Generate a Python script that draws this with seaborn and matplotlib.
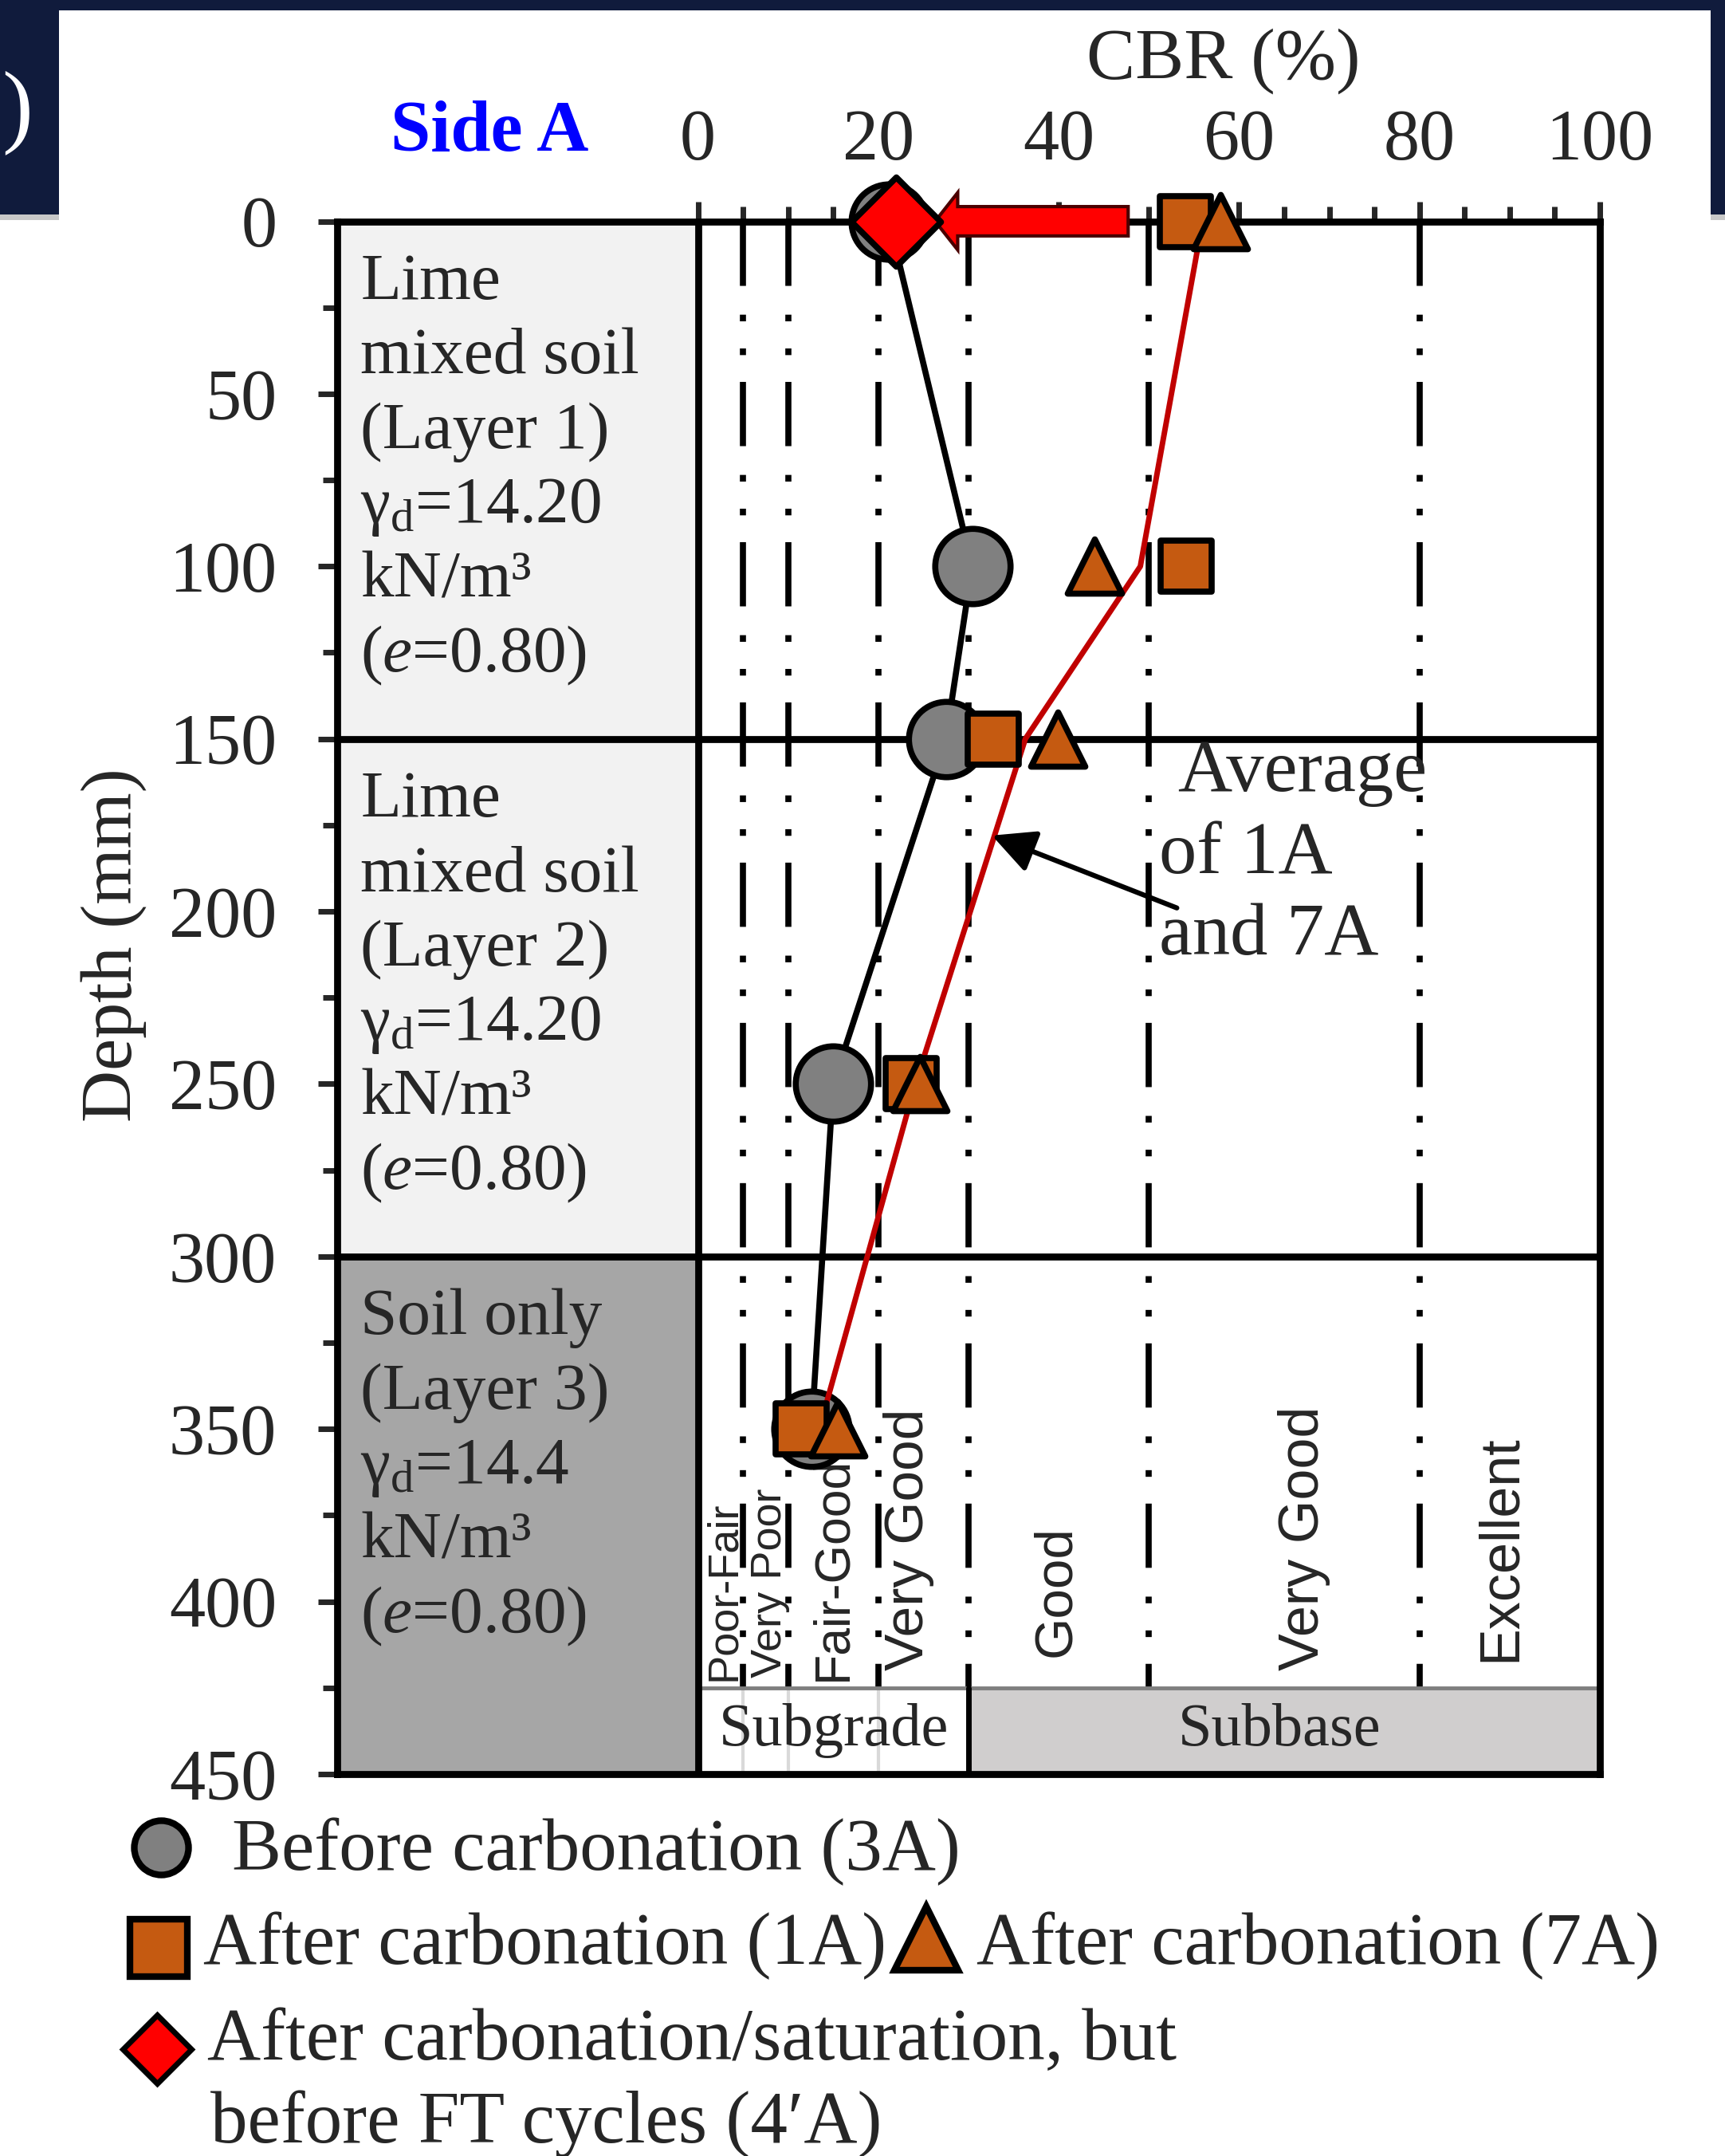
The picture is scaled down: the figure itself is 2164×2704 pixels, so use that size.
import matplotlib
matplotlib.use("Agg")
import matplotlib.pyplot as plt
import numpy as np
import pandas as pd
import seaborn as sns
from matplotlib.patches import Rectangle
from matplotlib.ticker import FixedLocator

# ---------------- data ----------------
depth_mm = [0, 100, 150, 250, 350]
cbr_before_3A = [21.2, 30.4, 27.5, 15.0, 12.6]
cbr_after_1A = [54.0, 54.1, 32.7, 23.6, 11.4]
cbr_after_7A = [57.9, 44.0, 39.9, 24.6, 15.5]
cbr_after_sat_4A = [22.0]
depth_4A = [0]

cbr_ticks = [0, 20, 40, 60, 80, 100]
cbr_minor_ticks = [5, 10, 15, 25, 30, 35, 45, 50, 55, 65, 70, 75, 85, 90, 95]
depth_ticks = [0, 50, 100, 150, 200, 250, 300, 350, 400, 450]
depth_minor_ticks = [25, 75, 125, 175, 225, 275, 325, 375, 425]

class_bounds = [5, 10, 20, 30, 50, 80]
class_labels = ["Poor-Fair", "Very Poor", "Fair-Good", "Very Good",
                "Good", "Very Good", "Excellent"]
layer_bounds = [0, 150, 300, 450]
layer_texts = [
    ["Lime", "mixed soil", "(Layer 1)", "γ$_\\mathrm{d}$=14.20", "kN/m³", "($\\mathit{e}$=0.80)"],
    ["Lime", "mixed soil", "(Layer 2)", "γ$_\\mathrm{d}$=14.20", "kN/m³", "($\\mathit{e}$=0.80)"],
    ["Soil only", "(Layer 3)", "γ$_\\mathrm{d}$=14.4", "kN/m³", "($\\mathit{e}$=0.80)"],
]
legend_labels = ["Before carbonation (3A)", "After carbonation (1A)",
                 "After carbonation (7A)",
                 "After carbonation/saturation, but", "before FT cycles (4′A)"]

cbr_avg = (np.array(cbr_after_1A) + np.array(cbr_after_7A)) / 2.0

# ---------------- style ----------------
sns.set_style("white")
plt.rcParams.update({
    "font.family": ["Liberation Serif", "DejaVu Serif"],
    "mathtext.fontset": "custom",
    "mathtext.rm": "Liberation Serif",
    "mathtext.it": "Liberation Serif:italic",
    "mathtext.bf": "Liberation Serif:bold",
    "lines.scale_dashes": False,
})

GRAY = "#808080"
ORANGE = "#c55a11"
RED = "#ff0000"
NAVY = "#101b3c"

W, H = 2164, 2704
fig = plt.figure(figsize=(W / 100, H / 100), dpi=100)
fig.patch.set_facecolor("white")

# overlay in pixel coordinates (frame decoration + legend)
ov = fig.add_axes([0, 0, 1, 1], zorder=0)
ov.set_xlim(0, W)
ov.set_ylim(H, 0)
ov.axis("off")

ax = fig.add_axes([423 / W, 1 - 2225 / H, (2007 - 423) / W, (2225 - 277.5) / H], zorder=1)
ax.set_xlim(-40, 100)
ax.set_ylim(450, 0)

# ---- layer panels ----
layer_fill = ["#f2f2f2", "#f2f2f2", "#a6a6a6"]
for top, bot, fc in zip(layer_bounds[:-1], layer_bounds[1:], layer_fill):
    ax.add_patch(Rectangle((-40, top), 40, bot - top, fc=fc, ec="none", zorder=0.5))

# ---- bottom band (Subgrade / Subbase) ----
band_top = 425
ax.add_patch(Rectangle((0, band_top), 30, 450 - band_top, fc="white", ec="none", zorder=0.6))
ax.add_patch(Rectangle((30, band_top), 70, 450 - band_top, fc="#d0cece", ec="none", zorder=0.6))
for b in class_bounds[:3]:
    ax.plot([b, b], [band_top, 450], color="#d9d9d9", lw=3, zorder=0.7)
ax.plot([0, 100], [band_top, band_top], color="#7f7f7f", lw=3.5, zorder=1.1)
ax.plot([30, 30], [band_top, 450], color="black", lw=5, zorder=1.1)
ax.text(15.1, 437.5, "Subgrade", ha="center", va="center", fontsize=55, zorder=3)
ax.text(64.5, 437.5, "Subbase", ha="center", va="center", fontsize=55, zorder=3)

# ---- classification lines ----
dash = (0, (58, 26, 6, 24.5, 6, 24.2))
for b in class_bounds:
    ax.plot([b, b], [0, band_top], color="black", lw=5.5, linestyle=dash, zorder=1)

# ---- classification labels ----
cl_x = [2.9, 8.0, 15.0, 23.4, 39.7, 67.2, 89.0]
cl_bot = [423, 422, 423, 420, 416, 420, 417.5]
cl_size = [39, 39, 45, 50, 48.5, 50.5, 50.5]
for lab, x, yb, fs in zip(class_labels, cl_x, cl_bot, cl_size):
    ax.text(x, yb, lab, rotation=90, ha="center", va="bottom", fontsize=fs,
            family=["Liberation Sans", "DejaVu Sans"], zorder=3)

# ---- layer boundary lines ----
ax.axvline(0, color="black", lw=6.3, zorder=2)
for d in layer_bounds[1:-1]:
    ax.axhline(d, color="black", lw=6.3, zorder=2)

# ---- layer texts ----
for top, lines in zip(layer_bounds[:-1], layer_texts):
    for i, t in enumerate(lines):
        ax.text(-37.4, top + 22.5 + 21.6 * i, t, ha="left", va="baseline",
                fontsize=60, zorder=3)

# ---- data ----
sns.lineplot(x=cbr_before_3A, y=depth_mm, sort=False, estimator=None,
             color="black", lw=5.5, ax=ax, zorder=3)
sns.lineplot(x=cbr_avg, y=depth_mm, sort=False, estimator=None,
             color="#c00000", lw=5, ax=ax, zorder=4.5)
sns.scatterplot(x=cbr_before_3A, y=depth_mm, marker="o", s=68 ** 2, color=GRAY,
                edgecolor="black", linewidth=5.5, ax=ax, zorder=4, clip_on=False, legend=False)
sns.scatterplot(x=cbr_after_1A, y=depth_mm, marker="s", s=46 ** 2, color=ORANGE,
                edgecolor="black", linewidth=5.5, ax=ax, zorder=5, clip_on=False, legend=False)
sns.scatterplot(x=cbr_after_7A, y=depth_mm, marker="^", s=49 ** 2, color=ORANGE,
                edgecolor="black", linewidth=5.5, ax=ax, zorder=6, clip_on=False, legend=False)

# red block arrow (shift from 1A/7A to 4'A at surface)
ax.arrow(47.7, 0, -21.4, 0, width=8.5, head_width=16.6, head_length=2.5,
         length_includes_head=True, fc=RED, ec="#4a0000", lw=3, zorder=8, clip_on=False)
sns.scatterplot(x=cbr_after_sat_4A, y=depth_4A, marker="D", s=57 ** 2, color=RED,
                edgecolor="black", linewidth=5.5, ax=ax, zorder=9, clip_on=False, legend=False)

# annotation
ax.annotate("", xy=(32.6, 178), xytext=(53.1, 199),
            arrowprops=dict(arrowstyle="-|>,head_length=0.6,head_width=0.3",
                            color="black", lw=4.5, mutation_scale=55,
                            shrinkA=0, shrinkB=0), zorder=10)
ax.text(53.2, 165, "Average", fontsize=68, va="baseline", ha="left", zorder=10)
ax.text(51.1, 189, "of 1A", fontsize=68, va="baseline", ha="left", zorder=10)
ax.text(51.1, 212.5, "and 7A", fontsize=68, va="baseline", ha="left", zorder=10)

# ---- axes / ticks ----
ax.set_xlabel("")
ax.set_ylabel("")
for sp in ax.spines.values():
    sp.set_linewidth(6.3)
    sp.set_color("black")
    sp.set_visible(True)
ax.xaxis.tick_top()
ax.xaxis.set_major_locator(FixedLocator(cbr_ticks))
ax.xaxis.set_minor_locator(FixedLocator(cbr_minor_ticks))
ax.yaxis.set_major_locator(FixedLocator(depth_ticks))
ax.yaxis.set_minor_locator(FixedLocator(depth_minor_ticks))
ax.set_xticklabels([str(t) for t in cbr_ticks])
ax.set_yticklabels([str(t) for t in depth_ticks])
ax.tick_params(axis="x", which="major", direction="out", length=18, width=5,
               pad=24, labelsize=65, top=True, bottom=False, labeltop=True, labelbottom=False)
ax.tick_params(axis="x", which="minor", direction="out", length=14, width=5,
               top=True, bottom=False)
ax.tick_params(axis="y", which="major", direction="out", length=17.5, width=5,
               pad=37, labelsize=65, left=True, right=False)
ax.tick_params(axis="y", which="minor", direction="out", length=13, width=5,
               left=True, right=False)

ax.set_ylabel("Depth (mm)", fontsize=65)
ax.yaxis.set_label_coords(-0.151, 0.534)
ax.xaxis.set_label_position("top")
ax.set_xlabel("CBR (%)", fontsize=66)
ax.xaxis.set_label_coords(0.702, 1.092)
ax.text(0.121, 1.0567, "Side A", transform=ax.transAxes, ha="center", va="center",
        color="#0000ff", fontweight="bold", fontsize=65)

# ---- frame decoration (slide screenshot edges) ----
ov.add_patch(Rectangle((0, 0), W, 13, fc=NAVY, ec="none"))
ov.add_patch(Rectangle((0, 0), 74, 269, fc=NAVY, ec="none"))
ov.add_patch(Rectangle((2146, 0), 18, 269, fc=NAVY, ec="none"))
ov.add_patch(Rectangle((0, 269), 74, 7, fc="#c8c8c8", ec="none"))
ov.add_patch(Rectangle((2146, 269), 18, 7, fc="#c8c8c8", ec="none"))
ov.text(2, 141, ")", color="white", ha="left", va="center", fontsize=84)

# ---- legend (drawn manually to match layout) ----
ov.plot([202], [2317], marker="o", ms=49, mfc=GRAY, mec="black", mew=6, ls="none")
ov.text(291, 2345, legend_labels[0], fontsize=67, va="baseline", ha="left")
ov.plot([199], [2443], marker="s", ms=52, mfc=ORANGE, mec="black", mew=6, ls="none")
ov.text(255, 2463, legend_labels[1], fontsize=67, va="baseline", ha="left")
ov.plot([1162], [2431], marker="^", ms=58, mfc=ORANGE, mec="black", mew=6, ls="none")
ov.text(1225, 2463, legend_labels[2], fontsize=67, va="baseline", ha="left")
ov.plot([197], [2570], marker="D", ms=44, mfc=RED, mec="black", mew=5, ls="none")
ov.text(260, 2583, legend_labels[3], fontsize=67, va="baseline", ha="left")
ov.text(264, 2687, legend_labels[4], fontsize=67, va="baseline", ha="left")

fig.savefig("out.png", dpi=100)
